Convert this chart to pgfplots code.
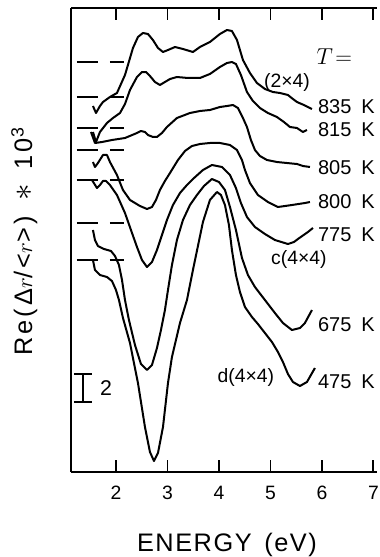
\documentclass[border=0pt]{standalone}
\usepackage{pgfplots}
\pgfplotsset{compat=1.18}
\usepackage{fontspec}
\setmainfont{Liberation Sans}
\newfontfamily\spacedx[LetterSpace=6]{Liberation Sans}
\newfontfamily\spacedy[LetterSpace=12]{Liberation Sans}
\tikzset{tlabel/.style={anchor=west, inner sep=0pt, font=\fontsize{15}{15}\selectfont}}

\begin{document}
\begin{tikzpicture}
\begin{axis}[
  scale only axis, width=229.3pt, height=348pt,
  xmin=1.13, xmax=7.068, ymin=0, ymax=33.143,
  axis x line=box, axis y line=left,
  axis line style={-, line width=1.4pt},
  xtick={2,3,4,5,6,7}, ytick=\empty,
  tick align=inside, major tick length=9pt,
  every tick/.style={black, line width=1.4pt},
  xticklabel style={font=\fontsize{14.5}{14.5}\selectfont, yshift=-7pt},
  /pgf/number format/assume math mode=true,
  clip=false,
  cycle list={{black,solid,mark=none}},
  every axis plot/.append style={line width=1.5pt, line join=round},
]
% 835 K
\addplot coordinates {(1.553,26.143) (1.612,25.643) (1.689,26.143) (1.748,26.429) (1.883,26.786) (2.019,27.071) (2.175,28.357) (2.330,30.286) (2.427,31.071) (2.524,31.357) (2.621,31.286) (2.718,30.857) (2.816,30.286) (2.913,30.0) (3.010,30.143) (3.146,30.357) (3.301,30.214) (3.495,30.0) (3.631,30.357) (3.825,30.714) (4.019,31.286) (4.155,31.571) (4.252,31.5) (4.350,30.857) (4.466,29.429) (4.602,28.5) (4.738,27.786) (4.893,27.357) (5.049,27.143) (5.184,27.071) (5.340,26.929) (5.437,26.643) (5.515,26.429) (5.650,26.214) (5.806,25.929)};
% 815 K
\addplot coordinates {(1.553,24.286) (1.612,23.571) (1.689,24.286) (1.825,24.929) (1.942,25.286) (2.078,25.643) (2.175,26.286) (2.272,27.286) (2.408,28.214) (2.505,28.571) (2.583,28.571) (2.660,28.286) (2.757,27.857) (2.854,27.643) (2.951,27.857) (3.049,28.071) (3.184,28.214) (3.398,28.143) (3.631,28.143) (3.825,28.429) (4.019,28.929) (4.155,29.214) (4.252,29.286) (4.330,29.143) (4.427,28.357) (4.544,27.143) (4.660,26.5) (4.796,26.0) (4.951,25.643) (5.126,25.357) (5.262,25.0) (5.379,24.643) (5.515,24.571) (5.631,24.286) (5.709,24.429)};
% 805 K
\addplot coordinates {(1.515,24.286) (1.592,23.5) (1.728,23.571) (1.922,23.714) (2.175,23.857) (2.408,24.214) (2.485,24.357) (2.563,24.286) (2.621,24.071) (2.718,23.929) (2.796,23.929) (2.893,24.214) (2.990,24.643) (3.184,25.286) (3.437,25.643) (3.631,25.786) (3.825,25.857) (4.019,26.071) (4.155,26.143) (4.272,26.214) (4.369,26.0) (4.466,25.286) (4.544,24.643) (4.621,23.714) (4.699,23.0) (4.796,22.571) (4.932,22.286) (5.126,22.143) (5.320,22.071) (5.515,22.0) (5.631,21.857) (5.767,21.786)};
% 800 K
\addplot coordinates {(1.553,22.143) (1.592,21.786) (1.650,22.071) (1.748,22.643) (1.825,22.643) (1.883,22.143) (2.019,21.214) (2.136,20.143) (2.272,19.429) (2.466,19.0) (2.602,18.786) (2.699,18.929) (2.777,19.429) (2.854,20.143) (2.951,20.786) (3.049,21.357) (3.204,22.286) (3.340,22.929) (3.476,23.286) (3.631,23.429) (3.825,23.5) (4.019,23.5) (4.214,23.357) (4.350,23.0) (4.447,22.286) (4.505,21.571) (4.602,20.643) (4.757,19.786) (4.951,19.286) (5.146,18.929) (5.417,19.071) (5.670,19.214) (5.767,19.286)};
% 775 K
\addplot coordinates {(1.534,20.857) (1.631,20.286) (1.689,20.5) (1.748,20.786) (1.806,20.786) (1.883,20.5) (2.019,19.786) (2.175,18.5) (2.291,17.286) (2.408,16.071) (2.505,15.143) (2.602,14.643) (2.699,15.0) (2.796,15.857) (2.893,16.929) (2.990,18.0) (3.107,19.071) (3.243,19.929) (3.379,20.5) (3.495,20.929) (3.689,21.571) (3.864,21.929) (4.058,21.786) (4.214,21.214) (4.330,20.286) (4.427,19.214) (4.544,18.214) (4.699,17.5) (4.893,17.0) (5.087,16.571) (5.340,16.286) (5.456,16.429) (5.534,16.643) (5.728,17.143) (5.825,17.429)};
% 675 K
\addplot coordinates {(1.553,17.286) (1.592,16.571) (1.650,16.143) (1.767,15.929) (1.903,15.786) (1.981,15.429) (2.058,14.786) (2.117,13.714) (2.175,12.286) (2.252,10.857) (2.369,9.071) (2.485,7.714) (2.602,7.286) (2.699,7.643) (2.796,8.857) (2.874,10.143) (2.951,11.571) (3.010,13.0) (3.087,14.786) (3.184,16.571) (3.301,18.0) (3.437,19.071) (3.573,19.786) (3.709,20.429) (3.864,20.929) (4.0,20.714) (4.117,20.143) (4.214,18.929) (4.330,17.286) (4.447,15.286) (4.563,14.071) (4.699,13.214) (4.893,12.286) (5.087,11.357) (5.243,10.643) (5.417,10.143) (5.573,10.286) (5.670,10.643) (5.806,11.571)};
% 475 K
\addplot coordinates {(1.553,15.143) (1.592,14.429) (1.689,14.071) (1.825,13.929) (1.922,13.643) (2.0,13.0) (2.058,12.286) (2.136,11.0) (2.272,9.214) (2.427,6.357) (2.563,3.214) (2.660,1.429) (2.738,0.786) (2.816,1.357) (2.913,3.214) (3.010,6.357) (3.087,8.214) (3.243,10.643) (3.379,12.286) (3.495,14.429) (3.689,17.857) (3.825,19.429) (3.961,20.0) (4.039,19.786) (4.117,19.071) (4.194,17.643) (4.252,15.857) (4.330,14.071) (4.408,12.857) (4.505,11.786) (4.641,11.071) (4.757,10.571) (4.893,9.929) (5.029,9.286) (5.146,8.571) (5.243,7.857) (5.340,7.0) (5.437,6.429) (5.573,6.143) (5.709,6.429) (5.864,7.429)};
% baselines
\addplot[black, line width=1.4pt, dash pattern=on 15.75pt off 9pt on 10.5pt off 50pt] coordinates {(1.243,29.286) (2.155,29.286)};
\addplot[black, line width=1.4pt, dash pattern=on 15.75pt off 9pt on 10.5pt off 50pt] coordinates {(1.243,26.786) (2.155,26.786)};
\addplot[black, line width=1.4pt, dash pattern=on 15.75pt off 9pt on 10.5pt off 50pt] coordinates {(1.243,24.571) (2.155,24.571)};
\addplot[black, line width=1.4pt, dash pattern=on 15.75pt off 9pt on 10.5pt off 50pt] coordinates {(1.243,23.0) (2.155,23.0)};
\addplot[black, line width=1.4pt, dash pattern=on 15.75pt off 9pt on 10.5pt off 50pt] coordinates {(1.243,20.857) (2.155,20.857)};
\addplot[black, line width=1.4pt, dash pattern=on 15.75pt off 9pt on 10.5pt off 50pt] coordinates {(1.243,17.786) (2.155,17.786)};
\addplot[black, line width=1.4pt, dash pattern=on 15.75pt off 9pt on 10.5pt off 50pt] coordinates {(1.243,15.143) (2.155,15.143)};
% scale bar
\addplot[black, line width=1.4pt] coordinates {(1.359,5) (1.359,7)};
\addplot[black, line width=1.4pt] coordinates {(1.184,5) (1.534,5)};
\addplot[black, line width=1.4pt] coordinates {(1.184,7) (1.534,7)};
\node[font=\fontsize{16}{16}\selectfont] at (axis cs:1.806,6.0) {2};
% labels
\node[font=\fontsize{17}{17}\selectfont] at (axis cs:6.24,29.643) {$T\!=$};
\node[font=\fontsize{14.5}{14.5}\selectfont] at (axis cs:5.320,27.857) {(2×4)};
\node[font=\fontsize{14.5}{14.5}\selectfont] at (axis cs:5.553,15.214) {c(4×4)};
\node[font=\fontsize{14.5}{14.5}\selectfont] at (axis cs:4.524,6.786) {d(4×4)};
\node[tlabel] at (axis cs:5.92,26.071) {835\hspace{0.5em}K};
\node[tlabel] at (axis cs:5.92,24.429) {815\hspace{0.5em}K};
\node[tlabel] at (axis cs:5.92,21.714) {805\hspace{0.5em}K};
\node[tlabel] at (axis cs:5.92,19.286) {800\hspace{0.5em}K};
\node[tlabel] at (axis cs:5.92,16.929) {775\hspace{0.5em}K};
\node[tlabel] at (axis cs:5.92,10.5) {675\hspace{0.5em}K};
\node[tlabel] at (axis cs:5.92,6.429) {475\hspace{0.5em}K};
\node[font=\spacedx\fontsize{19}{19}\selectfont] at (axis cs:4.155,-5.214) {ENERGY\hspace{0.5em}(eV)};
\node[rotate=90, font=\spacedy\fontsize{19}{19}\selectfont] at (axis cs:0.22,16.46) {Re(\char"0394$r$/<$r$>)\hspace{0.6em}{\fontsize{26}{26}\selectfont$\ast$}\hspace{0.6em}10\textsuperscript{3}};
\coordinate (bbBL) at (axis cs:-0.2524,-6.071);
\coordinate (bbTR) at (axis cs:7.11,33.714);
\end{axis}
\pgfresetboundingbox
\path[use as bounding box] (bbBL) rectangle (bbTR);
\end{tikzpicture}
\end{document}
